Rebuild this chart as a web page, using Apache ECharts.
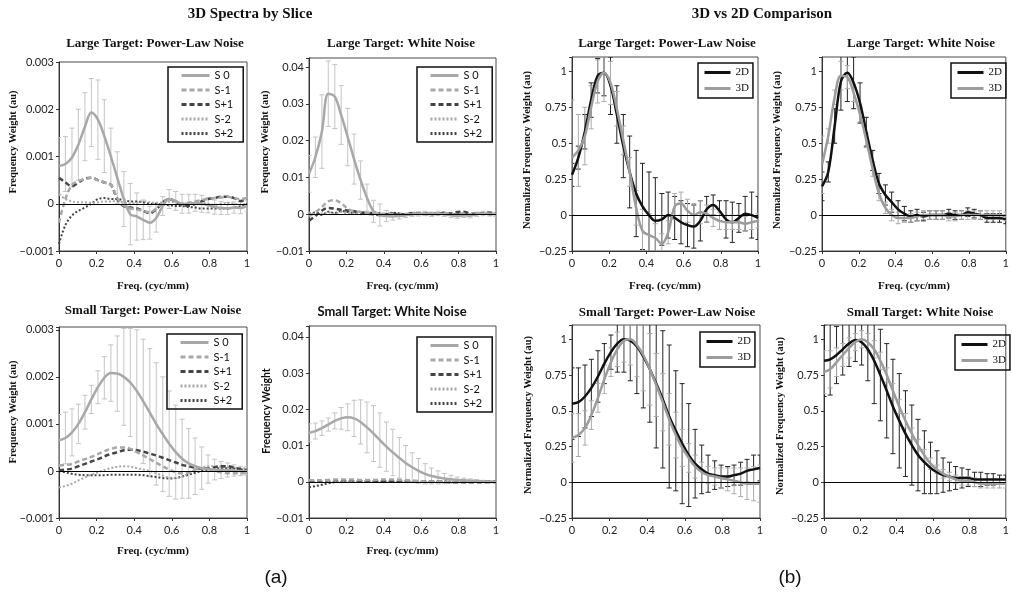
<!DOCTYPE html>
<html><head><meta charset="utf-8">
<script src="https://cdn.jsdelivr.net/npm/echarts@6/dist/echarts.min.js"></script>
<style>html,body{margin:0;padding:0;background:#fff}#c{width:1012px;height:593px}</style>
</head><body><div id="c"></div>
<script>
// ---------- DATA ----------
const freq = [0,0.034,0.069,0.103,0.138,0.172,0.207,0.241,0.276,0.310,0.345,0.379,0.414,0.448,0.483,0.517,0.552,0.586,0.621,0.655,0.690,0.724,0.759,0.793,0.828,0.862,0.897,0.931,0.966,1.0];
const sliceNames = ['S 0','S-1','S+1','S-2','S+2'];
const compNames = ['2D','3D'];
const xTicks = [0,0.2,0.4,0.6,0.8,1];

// Panel 1: Large Target, Power-Law Noise (3D slices)
const p1S0 = [0.00080,0.00084,0.00098,0.00125,0.00163,0.00193,0.00178,0.00143,0.00100,0.00055,0.00010,-0.00022,-0.00027,-0.00034,-0.00040,-0.00030,-0.00005,0.00010,0.00006,0.00000,0.00000,0.00002,0.00000,-0.00003,-0.00007,-0.00009,-0.00010,-0.00008,-0.00009,-0.00005];
const p1S0err = [0.00060,0.00058,0.00062,0.00075,0.00072,0.00072,0.00084,0.00077,0.00060,0.00055,0.00058,0.00065,0.00050,0.00042,0.00035,0.00030,0.00020,0.00020,0.00020,0.00020,0.00020,0.00018,0.00018,0.00016,0.00015,0.00014,0.00013,0.00012,0.00012,0.00011];
const p1Sm1 = [-0.00040,0.00010,0.00040,0.00048,0.00052,0.00055,0.00050,0.00045,0.00040,0.00012,-0.00004,-0.00010,-0.00012,-0.00015,-0.00018,-0.00010,0.00002,0.00010,0.00005,0.00000,0.00002,0.00005,0.00008,0.00010,0.00012,0.00013,0.00015,0.00012,0.00010,0.00012];
const p1Sp1 = [0.00055,0.00045,0.00037,0.00045,0.00053,0.00055,0.00050,0.00045,0.00040,0.00010,-0.00005,-0.00008,-0.00010,-0.00015,-0.00020,-0.00012,0.00003,0.00010,0.00004,-0.00003,-0.00004,0.00000,0.00005,0.00010,0.00012,0.00015,0.00015,0.00012,0.00006,0.00010];
const p1Sm2 = [0.00020,0.00010,0.00005,0.00003,0.00003,0.00002,0.00003,0.00005,0.00005,0.00006,0.00003,0.00000,0.00002,0.00005,0.00003,0.00002,0.00003,0.00005,0.00002,0.00000,-0.00002,0.00000,0.00002,0.00000,-0.00002,0.00000,0.00002,0.00000,-0.00002,0.00000];
const p1Sp2 = [-0.00085,-0.00045,-0.00025,-0.00015,-0.00008,0.00000,0.00010,0.00012,0.00010,0.00010,0.00008,0.00005,0.00005,0.00003,0.00000,0.00000,-0.00002,-0.00003,-0.00005,-0.00005,-0.00007,-0.00008,-0.00010,-0.00010,-0.00010,-0.00010,-0.00010,-0.00008,-0.00005,0.00000];

// Panel 2: Large Target, White Noise (3D slices)
const p2S0 = [0.0110,0.0155,0.0225,0.0328,0.0320,0.0270,0.0210,0.0150,0.0093,0.0045,0.0008,-0.0002,-0.0005,-0.0006,-0.0005,-0.0003,0.0000,0.0001,0.0002,0.0000,0.0002,0.0000,-0.0003,-0.0005,-0.0003,-0.0004,0.0000,0.0002,0.0001,0.0000];
const p2S0err = [0.0050,0.0055,0.0100,0.0089,0.0087,0.0080,0.0078,0.0068,0.0052,0.0037,0.0030,0.0030,0.0015,0.0010,0.0008,0.0006,0.0006,0.0006,0.0006,0.0006,0.0006,0.0006,0.0006,0.0006,0.0006,0.0006,0.0006,0.0006,0.0006,0.0006];
const p2Sm1 = [-0.0005,0.0005,0.0020,0.0035,0.0038,0.0030,0.0015,0.0008,0.0006,0.0004,0.0002,0.0000,0.0002,0.0000,-0.0002,0.0000,0.0002,0.0000,0.0003,0.0001,0.0000,0.0003,0.0001,-0.0002,0.0002,0.0000,0.0003,0.0001,0.0002,0.0000];
const p2Sp1 = [-0.0018,-0.0005,0.0010,0.0017,0.0015,0.0012,0.0010,0.0008,0.0005,0.0002,0.0000,-0.0002,0.0000,0.0002,-0.0002,0.0000,0.0003,0.0001,0.0003,0.0000,0.0002,0.0004,0.0002,0.0006,0.0007,0.0002,0.0001,0.0003,0.0004,0.0002];
const p2Sm2 = [0.0005,0.0000,0.0003,0.0005,0.0002,0.0006,0.0002,0.0004,0.0000,0.0003,0.0001,0.0002,-0.0001,0.0001,0.0002,-0.0001,0.0000,0.0002,0.0001,-0.0001,0.0002,0.0000,0.0001,-0.0001,0.0001,0.0002,0.0000,0.0001,-0.0001,0.0000];
const p2Sp2 = [0.0000,0.0005,-0.0002,0.0007,0.0003,0.0009,0.0006,0.0004,0.0007,0.0002,0.0005,0.0003,0.0000,0.0004,0.0002,0.0000,0.0003,0.0001,0.0000,0.0002,0.0001,0.0003,0.0000,0.0001,0.0002,0.0000,0.0001,0.0002,0.0000,0.0001];

// Panel 3: Small Target, Power-Law Noise (3D slices)
const p3S0 = [0.00065,0.00070,0.00082,0.00100,0.00125,0.00152,0.00178,0.00198,0.00208,0.00207,0.00200,0.00188,0.00170,0.00148,0.00124,0.00100,0.00078,0.00058,0.00040,0.00026,0.00016,0.00010,0.00006,0.00004,0.00003,0.00002,0.00002,0.00001,0.00000,0.00000];
const p3S0err = [0.00055,0.00055,0.00050,0.00042,0.00036,0.00030,0.00035,0.00045,0.00060,0.00080,0.00103,0.00115,0.00130,0.00132,0.00136,0.00130,0.00122,0.00112,0.00100,0.00084,0.00074,0.00060,0.00045,0.00030,0.00022,0.00018,0.00015,0.00012,0.00010,0.00010];
const p3Sm1 = [0.00012,0.00013,0.00015,0.00020,0.00025,0.00030,0.00036,0.00042,0.00047,0.00050,0.00050,0.00047,0.00040,0.00033,0.00025,0.00017,0.00010,0.00003,-0.00003,-0.00005,-0.00003,0.00003,0.00005,0.00003,0.00000,-0.00003,-0.00005,-0.00005,-0.00005,-0.00005];
const p3Sp1 = [0.00002,0.00003,0.00005,0.00010,0.00015,0.00020,0.00025,0.00031,0.00036,0.00040,0.00044,0.00045,0.00044,0.00041,0.00037,0.00033,0.00028,0.00023,0.00018,0.00013,0.00010,0.00007,0.00005,0.00005,0.00008,0.00010,0.00010,0.00007,0.00004,0.00002];
const p3Sm2 = [-0.00035,-0.00032,-0.00027,-0.00020,-0.00014,-0.00008,-0.00003,0.00002,0.00006,0.00009,0.00010,0.00009,0.00006,0.00003,0.00000,-0.00005,-0.00010,-0.00014,-0.00015,-0.00012,-0.00005,0.00002,0.00007,0.00010,0.00010,0.00009,0.00008,0.00007,0.00006,0.00005];
const p3Sp2 = [0.00000,-0.00003,-0.00006,-0.00008,-0.00009,-0.00009,-0.00009,-0.00009,-0.00008,-0.00008,-0.00008,-0.00008,-0.00008,-0.00009,-0.00011,-0.00013,-0.00015,-0.00016,-0.00015,-0.00012,-0.00008,-0.00004,0.00000,0.00003,0.00005,0.00006,0.00006,0.00005,0.00003,0.00002];

// Panel 4: Small Target, White Noise (3D slices)
const p4S0 = [0.0135,0.0140,0.0148,0.0158,0.0168,0.0175,0.0178,0.0175,0.0165,0.0150,0.0133,0.0115,0.0097,0.0081,0.0066,0.0052,0.0040,0.0030,0.0022,0.0016,0.0012,0.0009,0.0007,0.0005,0.0004,0.0003,0.0002,0.0001,0.0000,0.0000];
const p4S0err = [0.0025,0.0022,0.0020,0.0018,0.0022,0.0030,0.0037,0.0050,0.0061,0.0070,0.0077,0.0075,0.0068,0.0064,0.0056,0.0048,0.0040,0.0034,0.0028,0.0022,0.0018,0.0014,0.0011,0.0008,0.0006,0.0005,0.0004,0.0003,0.0003,0.0003];
const p4Sm1 = [0.0004,0.0004,0.0004,0.0005,0.0006,0.0006,0.0006,0.0006,0.0005,0.0005,0.0005,0.0006,0.0006,0.0006,0.0005,0.0004,0.0003,0.0002,0.0001,0.0000,0.0000,-0.0001,-0.0001,-0.0002,-0.0002,-0.0003,-0.0003,-0.0003,-0.0002,-0.0002];
const p4Sp1 = [0.0003,0.0003,0.0003,0.0004,0.0004,0.0004,0.0004,0.0004,0.0003,0.0003,0.0003,0.0003,0.0003,0.0003,0.0002,0.0002,0.0002,0.0001,0.0001,0.0000,0.0000,0.0000,-0.0001,-0.0001,-0.0001,-0.0001,-0.0001,0.0000,0.0000,0.0000];
const p4Sm2 = [0.0000,0.0000,0.0001,0.0001,0.0001,0.0001,0.0001,0.0001,0.0001,0.0001,0.0001,0.0000,0.0000,0.0000,0.0000,0.0000,0.0000,0.0000,0.0000,0.0000,0.0000,0.0000,0.0000,0.0000,0.0000,0.0000,0.0000,0.0000,0.0000,0.0000];
const p4Sp2 = [-0.0015,-0.0012,-0.0008,-0.0004,-0.0001,0.0000,0.0001,0.0001,0.0001,0.0001,0.0001,0.0001,0.0000,0.0000,0.0000,0.0000,0.0000,0.0000,0.0000,0.0000,0.0000,0.0000,0.0000,0.0000,0.0000,0.0000,0.0000,0.0000,0.0000,0.0000];

// Panel 5: Large Target, Power-Law Noise (2D vs 3D, normalized)
const p5D2 = [0.28,0.40,0.58,0.80,0.97,0.99,0.90,0.70,0.48,0.30,0.15,0.06,0.00,-0.04,-0.03,0.00,-0.02,-0.05,-0.07,-0.08,-0.04,0.04,0.07,0.03,-0.03,-0.05,-0.02,0.01,0.00,-0.02];
const p5D2err = [0.08,0.08,0.12,0.12,0.12,0.16,0.20,0.20,0.22,0.25,0.30,0.30,0.30,0.30,0.18,0.16,0.15,0.15,0.15,0.15,0.14,0.09,0.07,0.07,0.13,0.14,0.10,0.12,0.16,0.15];
const p5D3 = [0.40,0.45,0.55,0.75,0.93,0.99,0.92,0.74,0.52,0.30,0.05,-0.11,-0.14,-0.16,-0.20,-0.12,0.06,0.08,0.03,0.00,0.02,0.01,-0.02,-0.04,-0.05,-0.05,-0.05,-0.06,-0.05,-0.04];
const p5D3err = [0.40,0.25,0.20,0.15,0.15,0.20,0.15,0.12,0.10,0.10,0.12,0.15,0.15,0.10,0.07,0.08,0.09,0.08,0.08,0.08,0.08,0.06,0.06,0.06,0.05,0.05,0.05,0.05,0.05,0.05];

// Panel 6: Large Target, White Noise (2D vs 3D, normalized)
const p6D2 = [0.20,0.30,0.62,0.93,0.99,0.92,0.78,0.58,0.38,0.22,0.14,0.09,0.04,0.01,-0.01,0.00,-0.01,0.00,0.00,0.00,0.01,0.00,0.00,0.02,0.01,0.00,-0.02,-0.02,-0.02,-0.03];
const p6D2err = [0.10,0.07,0.12,0.20,0.20,0.18,0.14,0.10,0.07,0.07,0.07,0.07,0.06,0.05,0.04,0.04,0.03,0.03,0.03,0.03,0.03,0.03,0.03,0.03,0.03,0.03,0.03,0.03,0.03,0.03];
const p6D3 = [0.35,0.55,0.82,0.97,0.96,0.85,0.70,0.52,0.32,0.15,0.05,0.00,-0.02,-0.02,-0.02,-0.01,0.00,0.00,0.00,0.00,-0.01,-0.01,0.00,0.00,0.00,0.00,0.00,0.00,0.00,-0.01];
const p6D3err = [0.20,0.05,0.05,0.10,0.08,0.06,0.05,0.05,0.05,0.05,0.04,0.04,0.04,0.03,0.03,0.03,0.03,0.03,0.03,0.03,0.03,0.03,0.03,0.03,0.03,0.03,0.03,0.03,0.03,0.03];

// Panel 7: Small Target, Power-Law Noise (2D vs 3D, normalized)
const p7D2 = [0.55,0.56,0.60,0.66,0.74,0.83,0.91,0.97,1.00,0.99,0.95,0.88,0.79,0.69,0.58,0.46,0.36,0.27,0.19,0.13,0.09,0.06,0.05,0.04,0.04,0.05,0.06,0.08,0.09,0.10];
const p7D2err = [0.25,0.24,0.22,0.20,0.18,0.14,0.12,0.20,0.23,0.28,0.33,0.36,0.37,0.45,0.48,0.50,0.42,0.42,0.36,0.24,0.17,0.13,0.10,0.08,0.07,0.07,0.08,0.08,0.10,0.09];
const p7D3 = [0.31,0.33,0.38,0.47,0.59,0.72,0.84,0.93,0.99,1.00,0.96,0.89,0.79,0.68,0.56,0.44,0.33,0.24,0.17,0.11,0.07,0.05,0.04,0.03,0.02,0.01,0.00,-0.01,-0.01,-0.01];
const p7D3err = [0.17,0.15,0.12,0.10,0.10,0.10,0.10,0.12,0.15,0.18,0.22,0.25,0.25,0.22,0.20,0.18,0.16,0.13,0.10,0.08,0.07,0.06,0.06,0.07,0.08,0.09,0.10,0.11,0.12,0.13];

// Panel 8: Small Target, White Noise (2D vs 3D, normalized)
const p8D2 = [0.85,0.86,0.89,0.93,0.97,0.995,0.98,0.93,0.85,0.75,0.64,0.53,0.43,0.34,0.26,0.19,0.14,0.10,0.07,0.05,0.04,0.03,0.03,0.03,0.02,0.02,0.02,0.02,0.02,0.02];
const p8D2err = [0.25,0.25,0.20,0.18,0.16,0.15,0.16,0.22,0.30,0.32,0.33,0.33,0.33,0.30,0.28,0.25,0.22,0.18,0.15,0.12,0.10,0.08,0.07,0.06,0.05,0.05,0.04,0.04,0.03,0.03];
const p8D3 = [0.77,0.79,0.84,0.89,0.94,0.98,1.00,0.98,0.93,0.85,0.75,0.64,0.53,0.43,0.34,0.26,0.19,0.13,0.09,0.06,0.04,0.02,0.01,0.01,0.00,-0.01,-0.01,-0.01,-0.01,-0.01];
const p8D3err = [0.15,0.13,0.10,0.08,0.07,0.06,0.06,0.06,0.06,0.06,0.05,0.05,0.05,0.05,0.04,0.04,0.04,0.04,0.03,0.03,0.03,0.03,0.03,0.03,0.03,0.03,0.03,0.03,0.03,0.03];

// ---------- STYLE / LAYOUT ----------
const SERIF = '"Liberation Serif","Times New Roman",serif';
const SANS = 'Lato,"Liberation Sans",sans-serif';
const LIGHT = '#a8a8a8', DARK = '#454545';
const sliceStyles = [
  {color:LIGHT, width:2.5, type:'solid'},
  {color:LIGHT, width:2.5, type:[5,3]},
  {color:DARK, width:2.5, type:[5,3]},
  {color:LIGHT, width:2, type:[2,2]},
  {color:DARK, width:2, type:[2,2]}
];
const compStyles = [
  {color:'#111111', width:2.5, type:'solid', err:'#222222'},
  {color:'#9c9c9c', width:2.5, type:'solid', err:'#ababab'}
];

const panels = [
  {kind:'slice', grid:{left:59,top:62,width:188,height:189}, y:[-0.001,0.003,0.001,3], title:'Large Target: Power-Law Noise', tx:155, ty:44, tfont:SERIF,
   yName:'Frequency Weight (au)', ynFont:SERIF, yn:[13,142], xName:true, xnGap:30, leg:[168,67],
   lines:[p1S0,p1Sm1,p1Sp1,p1Sm2,p1Sp2], errs:[[0,p1S0err]]},
  {kind:'slice', grid:{left:309,top:58,width:187,height:193}, y:[-0.01,0.0425,0.01,2], title:'Large Target: White Noise', tx:401, ty:44, tfont:SERIF,
   yName:'Frequency Weight (au)', ynFont:SERIF, yn:[265,142], xName:true, xnGap:30, leg:[417,67],
   lines:[p2S0,p2Sm1,p2Sp1,p2Sm2,p2Sp2], errs:[[0,p2S0err]]},
  {kind:'slice', grid:{left:59,top:327,width:188,height:191}, y:[-0.001,0.00306,0.001,3], title:'Small Target: Power-Law Noise', tx:153, ty:311, tfont:SERIF,
   yName:'Frequency Weight (au)', ynFont:SERIF, yn:[13,412], xName:true, xnGap:28, leg:[167,334],
   lines:[p3S0,p3Sm1,p3Sp1,p3Sm2,p3Sp2], errs:[[0,p3S0err]]},
  {kind:'slice', grid:{left:309,top:326,width:187,height:192}, y:[-0.01,0.043,0.01,2], title:'Small Target: White Noise', tx:392, ty:312, tfont:SANS,
   yName:'Frequency Weight', ynFont:SANS, yn:[267,411], xName:true, xnGap:28, leg:[417,337],
   lines:[p4S0,p4Sm1,p4Sp1,p4Sm2,p4Sp2], errs:[[0,p4S0err]]},
  {kind:'comp', grid:{left:572,top:57,width:186,height:194}, y:[-0.25,1.1,0.25,2], title:'Large Target: Power-Law Noise', tx:667, ty:44, tfont:SERIF,
   yName:'Normalized Frequency Weight (au)', ynFont:SERIF, yn:[527,150], xName:true, xnGap:30, leg:[698,63],
   lines:[p5D2,p5D3], errs:[[0,p5D2err],[1,p5D3err]]},
  {kind:'comp', grid:{left:822,top:57,width:189,height:194}, y:[-0.25,1.1,0.25,2], title:'Large Target: White Noise', tx:921, ty:44, tfont:SERIF,
   yName:'Normalized Frequency Weight (au)', ynFont:SERIF, yn:[777,150], xName:true, xnGap:30, leg:[951,63],
   lines:[p6D2,p6D3], errs:[[0,p6D2err],[1,p6D3err]]},
  {kind:'comp', grid:{left:572,top:325,width:188,height:193}, y:[-0.25,1.1,0.25,2], title:'Small Target: Power-Law Noise', tx:667, ty:313, tfont:SERIF,
   yName:'Normalized Frequency Weight (au)', ynFont:SERIF, yn:[528,415], xName:false, xnGap:28, leg:[700,332],
   lines:[p7D2,p7D3], errs:[[0,p7D2err],[1,p7D3err]]},
  {kind:'comp', grid:{left:824,top:325,width:187,height:193}, y:[-0.25,1.1,0.25,2], title:'Small Target: White Noise', tx:920, ty:313, tfont:SERIF,
   yName:'Normalized Frequency Weight (au)', ynFont:SERIF, yn:[780,416], xName:false, xnGap:28, leg:[955,335],
   lines:[p8D2,p8D3], errs:[[0,p8D2err],[1,p8D3err]]}
];

function fmtTick(v, step, dec) {
  const k = Math.round(v / step);
  if (Math.abs(v - k * step) > step * 1e-3) return '';
  if (k === 0) return '0';
  return parseFloat((k * step).toFixed(dec)).toString().replace('-', '\u2212');
}

function errRenderer(color) {
  return function (params, api) {
    const x = api.value(0), lo = api.value(1), hi = api.value(2);
    const a = api.coord([x, hi]), b = api.coord([x, lo]);
    const c = 2.5;
    const st = {stroke: color, lineWidth: 1, fill: null};
    return {type:'group', children:[
      {type:'line', shape:{x1:a[0], y1:a[1], x2:b[0], y2:b[1]}, style:st},
      {type:'line', shape:{x1:a[0]-c, y1:a[1], x2:a[0]+c, y2:a[1]}, style:st},
      {type:'line', shape:{x1:b[0]-c, y1:b[1], x2:b[0]+c, y2:b[1]}, style:st}
    ]};
  };
}

function txt(x, y, text, font, rot) {
  return {type:'text', x:x, y:y, rotation:rot || 0, silent:true,
    style:{text:text, font:font, fill:'#111', textAlign:'center', textVerticalAlign:'middle', align:'center', verticalAlign:'middle'}};
}

const grids = [], xAxes = [], yAxes = [], series = [], legends = [], graphics = [];
panels.forEach((p, i) => {
  grids.push(Object.assign({show:true, borderColor:'#4a4a4a', borderWidth:1, backgroundColor:'transparent'}, p.grid));
  xAxes.push({type:'value', gridIndex:i, min:0, max:1, interval:0.2,
    axisLine:{show:true, onZero:false, lineStyle:{color:'#333', width:1}},
    axisTick:{show:true, length:3, lineStyle:{color:'#333'}},
    axisLabel:{fontFamily:SANS, fontSize:11, color:'#222', margin:7, formatter:v => fmtTick(v, 0.2, 1)},
    splitLine:{show:false},
    name: p.xName ? 'Freq. (cyc/mm)' : '', nameLocation:'middle', nameGap:p.xnGap,
    nameTextStyle:{fontFamily:SERIF, fontWeight:'bold', fontSize:11, color:'#111'}});
  yAxes.push({type:'value', gridIndex:i, min:p.y[0], max:p.y[1], interval:p.y[2],
    axisLine:{show:true, onZero:false, lineStyle:{color:'#333', width:1}},
    axisTick:{show:true, length:3, lineStyle:{color:'#333'}},
    axisLabel:{fontFamily:SANS, fontSize:11, color:'#222', margin:5, formatter:v => fmtTick(v, p.y[2], p.y[3]), showMaxLabel:true},
    splitLine:{show:false}});

  const names = p.kind === 'slice' ? sliceNames : compNames;
  const styles = p.kind === 'slice' ? sliceStyles : compStyles;
  p.errs.forEach(([si, errArr]) => {
    const vals = p.lines[si];
    const col = p.kind === 'slice' ? '#c4c4c4' : styles[si].err;
    series.push({type:'custom', name:'err'+i+'_'+si, xAxisIndex:i, yAxisIndex:i, clip:true, silent:true,
      renderItem: errRenderer(col), encode:{x:0, y:[1,2]},
      data: freq.map((x, j) => [x, vals[j] - errArr[j], vals[j] + errArr[j]])});
  });
  const order = p.kind === 'slice' ? [4,3,2,1,0] : [0,1];
  order.forEach(si => {
    const st = styles[si];
    series.push({type:'line', name:names[si], xAxisIndex:i, yAxisIndex:i, symbol:'none', smooth:0.35,
      lineStyle:{color:st.color, width:st.width, type:st.type}, itemStyle:{color:st.color},
      data: freq.map((x, j) => [x, p.lines[si][j]])});
  });
  series.push({type:'line', name:'zero'+i, xAxisIndex:i, yAxisIndex:i, symbol:'none', data:[],
    markLine:{silent:true, symbol:'none', label:{show:false}, lineStyle:{color:'#000', width:1, type:'solid'}, data:[{yAxis:0}]}});

  legends.push(p.kind === 'slice' ? {
    orient:'vertical', left:p.leg[0], top:p.leg[1], data:sliceNames, selectedMode:false,
    borderColor:'#111', borderWidth:1.5, padding:[3,10,3,12], itemGap:3.5, itemWidth:28, itemHeight:12,
    itemStyle:{opacity:0, color:'transparent', borderWidth:0}, lineStyle:{width:3},
    textStyle:{fontFamily:SANS, fontSize:11, color:'#111'}
  } : {
    orient:'vertical', left:p.leg[0], top:p.leg[1], data:compNames, selectedMode:false,
    borderColor:'#111', borderWidth:1.5, padding:[4,4,4,5], itemGap:5, itemWidth:26, itemHeight:12,
    itemStyle:{opacity:0, color:'transparent', borderWidth:0}, lineStyle:{width:3},
    textStyle:{fontFamily:SERIF, fontSize:11, color:'#111'}
  });

  graphics.push(txt(p.tx, p.ty, p.title, 'bold 13px ' + p.tfont));
  graphics.push(txt(p.yn[0], p.yn[1], p.yName, 'bold 10.5px ' + p.ynFont, Math.PI / 2));
});

graphics.push(txt(250, 14, '3D Spectra by Slice', 'bold 15px ' + SERIF));
graphics.push(txt(762, 14, '3D vs 2D Comparison', 'bold 15px ' + SERIF));
graphics.push(txt(276, 578, '(a)', '19px "Liberation Sans",Arial,sans-serif'));
graphics.push(txt(790, 578, '(b)', '19px "Liberation Sans",Arial,sans-serif'));

const chart = echarts.init(document.getElementById('c'), null, {renderer:'canvas'});
chart.setOption({
  animation:false, backgroundColor:'#fff',
  grid:grids, xAxis:xAxes, yAxis:yAxes, series:series, legend:legends, graphic:graphics
});
</script></body></html>
